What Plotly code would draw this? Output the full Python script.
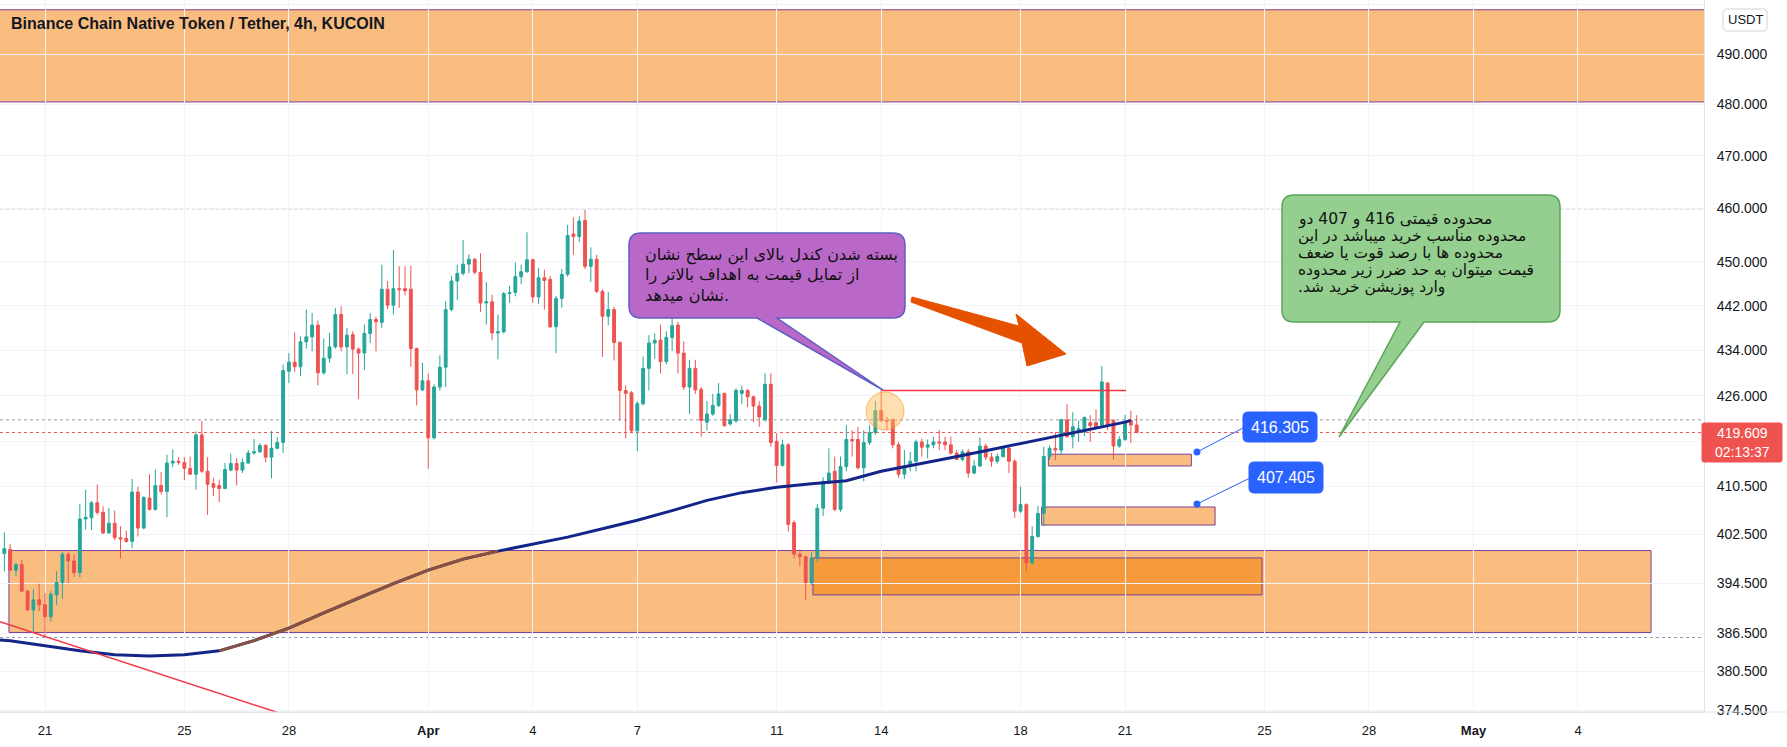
import plotly.graph_objects as go
import pandas as pd
import numpy as np

# ---------------- data ----------------
start_time = "2021-03-19 20:00"
opens = [399.3,400.0,396.6,397.5,393.2,390.2,391.8,391.0,389.1,392.6,394.6,399.2,398.1,396.2,405.0,405.2,407.7,406.1,402.7,404.3,
         401.9,401.8,401.3,409.5,403.5,408.5,406.6,410.6,409.6,414.4,414.7,414.5,413.5,412.5,419.2,413.0,410.9,410.6,410.1,413.2,
         414.3,413.2,414.4,416.1,416.3,417.4,415.4,416.9,417.9,430.3,431.9,431.1,435.5,436.4,438.5,430.0,432.6,434.6,440.4,434.6,
         436.8,434.2,433.5,437.0,439.5,439.0,445.0,442.1,445.1,445.1,445.0,434.3,427.0,428.6,418.7,427.5,431.0,441.3,446.5,447.9,
         449.6,450.5,448.1,442.5,442.7,437.1,437.3,444.2,444.4,447.3,448.2,450.4,443.6,447.1,446.8,438.2,443.3,447.7,455.2,454.7,
         457.7,449.2,450.5,444.6,440.1,441.3,435.4,426.9,426.5,419.9,424.6,430.8,435.3,435.8,432.0,436.3,438.5,433.5,427.5,430.8,
         427.1,421.4,422.8,424.3,426.4,421.1,421.6,426.4,426.9,425.8,424.2,421.8,428.0,418.1,414.0,417.5,404.4,399.2,398.8,394.6,
         398.6,406.8,411.3,413.0,406.6,413.8,418.4,418.4,413.6,417.9,419.6,423.4,421.7,421.8,417.5,412.5,413.9,414.7,418.0,417.1,
         417.5,418.0,418.0,417.5,416.1,415.0,416.3,412.7,413.9,417.3,415.4,414.7,415.5,416.9,414.7,406.3,407.4,397.8,402.1,405.9,
         415.5,416.9,416.6,421.8,418.9,419.7,419.7,421.3,421.3,420.9,428.2,421.7,417.3,418.4,421.7,420.9]
highs = [402.8,400.9,397.8,398.3,393.4,393.5,394.4,392.9,393.2,396.4,399.6,399.5,399.2,407.5,409.9,408.0,410.8,407.1,406.8,406.4,
         403.8,403.1,411.7,410.4,408.8,412.5,413.3,412.9,415.8,416.7,415.4,415.4,415.5,419.8,421.6,415.4,411.9,411.6,414.4,416.0,
         415.2,415.2,416.6,418.5,417.8,417.6,419.9,418.8,431.5,433.5,437.2,436.5,441.3,440.7,439.3,436.1,437.1,441.6,441.9,438.0,
         437.4,434.5,438.6,440.7,440.0,449.5,446.5,452.2,449.2,449.2,449.3,434.5,431.8,429.9,428.0,433.1,442.8,447.4,449.5,454.1,
         451.4,450.7,451.6,446.3,444.0,440.4,444.5,445.6,449.9,449.5,455.5,450.6,448.9,448.6,447.4,443.8,448.7,456.9,458.3,458.5,
         459.7,452.7,451.3,445.0,444.5,441.8,435.6,427.8,426.8,425.0,432.9,436.7,437.0,438.6,437.4,441.3,439.1,435.6,432.3,432.3,
         427.5,425.1,426.3,428.2,426.5,422.8,427.3,427.8,427.2,426.0,425.0,429.9,429.9,419.5,418.4,417.8,404.8,400.0,399.0,399.5,
         407.5,412.0,416.9,415.5,415.5,420.9,420.0,420.6,420.0,420.9,425.1,427.0,422.3,422.0,418.0,416.6,416.3,418.4,418.6,418.4,
         418.9,420.0,418.9,418.9,416.6,416.7,416.8,414.9,418.8,417.7,416.1,416.0,417.1,417.2,415.0,410.4,407.6,403.8,407.2,417.2,
         417.4,419.7,422.0,424.5,423.1,421.7,422.4,422.6,423.6,431.2,428.4,421.9,419.0,422.7,423.4,422.6]
lows = [396.4,396.4,395.6,393.0,390.0,386.6,390.0,385.9,388.3,391.0,392.0,394.5,395.5,395.4,403.2,403.2,405.7,402.5,402.6,401.5,
        398.5,401.1,400.2,402.1,403.3,406.4,406.4,409.1,405.3,413.7,414.1,411.5,412.4,409.9,412.7,405.7,408.8,407.8,410.0,413.0,
        410.6,412.7,414.2,415.8,416.1,414.5,411.8,416.8,416.1,428.2,430.2,429.4,434.3,433.8,427.8,429.7,431.8,434.3,433.8,429.8,
        429.8,425.4,430.5,435.3,433.8,438.0,441.4,440.4,441.6,443.9,431.1,424.3,426.8,413.4,418.4,426.9,427.5,441.0,443.0,447.5,
        447.9,447.7,440.9,438.6,435.8,432.4,437.0,442.5,443.7,445.9,448.0,442.5,442.3,441.3,438.0,433.5,441.6,447.3,451.3,453.7,
        448.7,446.3,444.3,432.8,438.5,432.2,421.7,418.6,419.5,416.4,424.3,426.9,432.5,429.9,431.5,433.9,429.9,427.0,422.8,426.3,
        418.9,420.0,422.5,424.0,420.6,420.8,421.3,424.5,424.0,421.4,420.6,421.5,417.2,411.1,413.8,402.9,398.5,397.2,391.8,394.2,
        398.0,405.5,410.8,406.3,406.2,413.0,415.5,413.3,411.3,417.5,419.2,421.4,420.0,416.9,411.9,411.7,413.0,413.0,415.5,415.2,
        416.9,416.6,416.6,415.8,414.9,414.7,411.9,412.5,413.7,414.9,413.8,414.3,415.3,412.7,405.2,406.0,396.4,397.5,401.9,403.8,
        414.9,414.9,415.8,418.7,416.9,418.0,419.0,418.0,420.2,420.5,420.0,415.0,417.0,418.2,417.8,419.5]
closes = [400.1,396.6,397.5,393.2,390.2,391.8,391.0,389.1,392.7,394.6,399.2,398.1,396.2,405.0,405.3,407.7,406.1,402.7,404.3,401.9,
          401.7,401.3,409.5,403.5,408.6,406.6,410.6,409.6,414.4,414.7,414.5,413.5,412.5,419.2,413.0,410.8,410.3,410.1,413.3,414.3,
          413.2,414.5,416.1,416.3,417.4,415.4,416.9,417.9,430.4,431.9,431.1,435.5,436.4,438.5,430.0,432.6,434.6,440.4,434.6,436.7,
          434.2,433.5,437.0,439.5,439.1,445.0,442.1,445.1,444.9,444.7,434.3,427.0,428.6,418.7,427.5,431.0,441.3,446.5,447.9,449.6,
          450.5,448.1,442.5,442.7,437.1,437.3,444.2,444.4,447.3,448.2,450.4,443.6,447.1,446.6,438.2,443.3,447.7,454.9,454.7,457.6,
          449.2,450.5,444.6,440.1,441.3,435.4,426.9,426.4,419.9,424.6,430.8,435.3,435.8,432.0,436.3,438.4,433.5,427.5,430.8,427.0,
          421.7,422.8,424.3,426.3,420.8,421.8,426.9,426.9,425.8,424.2,422.3,428.0,417.9,414.0,417.5,404.1,399.2,398.8,394.6,398.6,
          406.8,411.3,412.7,406.6,413.8,418.4,418.2,413.6,417.9,419.6,423.4,421.7,421.6,417.5,412.5,413.9,414.7,418.0,417.1,417.5,
          418.0,417.8,417.5,416.1,415.0,416.3,412.7,413.9,417.3,415.4,414.7,415.5,416.9,414.7,406.3,407.4,397.8,402.1,405.9,415.5,
          416.9,416.6,421.8,418.9,420.6,420.3,422.2,420.8,420.5,428.4,420.9,417.3,418.4,421.4,420.9,419.609]

ma_times = ["2021-03-19 17:00"] + [d.strftime("%Y-%m-%d") for d in pd.date_range("2021-03-20", "2021-04-21", freq="D")] + ["2021-04-21 04:00"]
ma_vals = [385.4,385.3,384.5,383.7,383.1,382.9,383.1,383.7,385.3,387.3,389.7,392.1,394.4,396.6,398.4,399.7,400.9,402.0,
           403.4,404.8,406.4,408.1,409.4,410.3,410.9,411.4,413.0,414.1,415.3,416.5,417.7,419.0,420.2,421.4,421.7]
ma_brown_from, ma_brown_to = 7, 15

trend_x = ["2021-03-19 17:00", "2021-03-28 07:40"]
trend_y = [388.3, 373.0]

tick_dates = ["2021-03-21", "2021-03-25", "2021-03-28", "2021-04-01", "2021-04-04", "2021-04-07", "2021-04-11",
              "2021-04-14", "2021-04-18", "2021-04-21", "2021-04-25", "2021-04-28", "2021-05-01", "2021-05-04"]
tick_date_text = ["21", "25", "28", "<b>Apr</b>", "4", "7", "11", "14", "18", "21", "25", "28", "<b>May</b>", "4"]
price_ticks = [374.5, 380.5, 386.5, 394.5, 402.5, 410.5, 418, 426, 434, 442, 450, 460, 470, 480, 490, 500]

top_zone = ("2021-03-10", "2021-05-20", 480.5, 499.0)
big_zone = ("2021-03-19 23:10", "2021-05-06 02:20", 386.6, 399.8)
inner_zone = ("2021-04-12 01:00", "2021-04-24 22:20", 392.6, 398.6)
zone_416 = ("2021-04-18 19:10", "2021-04-22 21:40", 413.9, 415.9)
zone_407 = ("2021-04-18 14:30", "2021-04-23 14:00", 404.0, 407.0)
resistance = ("2021-04-14 01:00", "2021-04-21 00:45", 426.9)
range_high, range_low, prev_close = 459.9, 385.8, 421.8
last_price = closes[-1]
countdown = "02:13:37"
label_values = [416.305, 407.405]

title = "Binance Chain Native Token / Tether, 4h, KUCOIN"
purple_lines = ["بسته شدن کندل بالای این سطح نشان", "از تمایل قیمت به اهداف بالاتر را", "نشان میدهد."]
green_lines = ["محدوده قیمتی 416 و 407 دو", "محدوده مناسب خرید میباشد در این", "محدوده ها با رصد قوت یا ضعف",
               "قیمت میتوان به حد ضرر زیر محدوده", ".وارد پوزیشن خرید شد"]

# ---------------- figure ----------------
W, H = 1787, 747
PW, PH = 1704, 712
times = pd.date_range(start_time, periods=len(opens), freq="4h")

UP, DN = "#26a69a", "#ef5350"
GRID = "#f0f3fa"
ZONE = "#fabd80"
ZONE_DARK = "#f69a3c"
ZONE_LINE = "#7b3f99"
NAVY = "#14258a"

fig = go.Figure()
fig.add_trace(go.Candlestick(
    x=times, open=opens, high=highs, low=lows, close=closes,
    increasing=dict(line=dict(color=UP, width=1), fillcolor=UP),
    decreasing=dict(line=dict(color=DN, width=1), fillcolor=DN),
    whiskerwidth=0, hoverinfo="skip", showlegend=False))
fig.add_trace(go.Scatter(x=ma_times, y=ma_vals, mode="lines", line=dict(color=NAVY, width=3),
                         hoverinfo="skip", showlegend=False))
fig.add_trace(go.Scatter(x=ma_times[ma_brown_from:ma_brown_to + 1], y=ma_vals[ma_brown_from:ma_brown_to + 1],
                         mode="lines", line=dict(color="#8a5140", width=3), hoverinfo="skip", showlegend=False))
fig.add_trace(go.Scatter(x=trend_x, y=trend_y, mode="lines", line=dict(color="#f23645", width=1.5),
                         hoverinfo="skip", showlegend=False))

shapes = []


def zone(z, fill, layer="below"):
    shapes.append(dict(type="rect", xref="x", yref="y", x0=z[0], x1=z[1], y0=z[2], y1=z[3],
                       fillcolor=fill, line=dict(color=ZONE_LINE, width=1), layer=layer))


zone(top_zone, ZONE)
zone(big_zone, ZONE)
zone(inner_zone, ZONE_DARK)
zone(zone_416, ZONE)
zone(zone_407, ZONE)

for lvl, col in [(range_high, "#9598a1"), (prev_close, "#9598a1"), (range_low, "#9598a1"), (last_price, "#ef5350")]:
    shapes.append(dict(type="line", xref="paper", yref="y", x0=0, x1=1, y0=lvl, y1=lvl,
                       line=dict(color=col, width=1, dash="dot"), layer="below"))

shapes.append(dict(type="line", xref="x", yref="y", x0=resistance[0], x1=resistance[1], y0=resistance[2],
                   y1=resistance[2], line=dict(color="#f23645", width=1.5), layer="above"))
# bottom border continuing under the price scale
shapes.append(dict(type="line", xref="paper", yref="paper", x0=0, x1=W / PW, y0=0, y1=0,
                   line=dict(color="#e0e3eb", width=1), layer="above"))


def P(x, y):
    return f"{x / PW:.5f},{1 - y / PH:.5f}"


def rrect(x0, y0, x1, y1, r, tail=None):
    d = f"M{P(x0 + r, y0)} L{P(x1 - r, y0)} Q{P(x1, y0)} {P(x1, y0 + r)} L{P(x1, y1 - r)} Q{P(x1, y1)} {P(x1 - r, y1)}"
    if tail:
        bx0, bx1, tx, ty = tail
        d += f" L{P(bx1, y1)} L{P(tx, ty)} L{P(bx0, y1)}"
    d += f" L{P(x0 + r, y1)} Q{P(x0, y1)} {P(x0, y1 - r)} L{P(x0, y0 + r)} Q{P(x0, y0)} {P(x0 + r, y0)} Z"
    return d


def pshape(d, fill, line, width=1.5):
    shapes.append(dict(type="path", xref="paper", yref="paper", path=d, fillcolor=fill,
                       line=dict(color=line, width=width), layer="above"))


# orange highlight circle
cx, cy, cr = 885, 411, 19
shapes.append(dict(type="circle", xref="paper", yref="paper", x0=(cx - cr) / PW, x1=(cx + cr) / PW,
                   y0=1 - (cy + cr) / PH, y1=1 - (cy - cr) / PH, fillcolor="rgba(255,183,77,0.45)",
                   line=dict(color="rgba(240,140,30,0.55)", width=1), layer="above"))

# callouts
pshape(rrect(629, 233, 905, 318, 12, (757, 777, 883, 390)), "#ba68c8", "#5c5fc4")
pshape(rrect(1282, 195, 1560, 322, 12, (1400, 1424, 1339, 437)), "#94cf8f", "#5aa55a")

# big orange arrow
arrow_pts = [(912, 297), (1019, 326), (1016, 314), (1066, 354), (1027, 366), (1022, 343), (911, 302)]
d = "M" + " L".join(P(x, y) for x, y in arrow_pts) + " Z"
pshape(d, "#e65100", "#e65100", 1)

# blue price labels with connectors
lab_boxes = [(1243, 412, 1317, 442), (1249, 462, 1323, 493)]
dots = [(1197, 452), (1197, 504)]
for (bx0, by0, bx1, by1), (dx, dy) in zip(lab_boxes, dots):
    shapes.append(dict(type="line", xref="paper", yref="paper", x0=dx / PW, y0=1 - dy / PH,
                       x1=bx0 / PW, y1=1 - ((by0 + by1) / 2 + 1) / PH,
                       line=dict(color="#2962ff", width=1), layer="above"))
    shapes.append(dict(type="circle", xref="paper", yref="paper", x0=(dx - 3.5) / PW, x1=(dx + 3.5) / PW,
                       y0=1 - (dy + 3.5) / PH, y1=1 - (dy - 3.5) / PH, fillcolor="#2962ff",
                       line=dict(color="#2962ff", width=0), layer="above"))
    pshape(rrect(bx0, by0, bx1, by1, 5), "#2962ff", "#2962ff", 1)

# price-axis current price box and USDT box
pshape(rrect(1702, 423, 1782, 462, 2), "#ef5350", "#ef5350", 1)
pshape(rrect(1723, 9, 1767, 31, 4), "#ffffff", "#d1d4dc", 1)

annotations = []
annotations.append(dict(text=f"<b>{title}</b>", xref="paper", yref="paper", x=9 / PW, y=1 - 24 / PH,
                        xanchor="left", yanchor="middle", showarrow=False,
                        font=dict(family="Liberation Sans", size=16, color="#131722")))
for i, t in enumerate(purple_lines):
    annotations.append(dict(text=t, xref="paper", yref="paper", x=643 / PW, y=1 - (255 + 20 * i) / PH,
                            xanchor="left", yanchor="middle", showarrow=False, align="left",
                            font=dict(family="DejaVu Sans", size=16, color="#111111")))
for i, t in enumerate(green_lines):
    annotations.append(dict(text=t, xref="paper", yref="paper", x=1296 / PW, y=1 - (220 + 16.9 * i) / PH,
                            xanchor="left", yanchor="middle", showarrow=False, align="left",
                            font=dict(family="DejaVu Sans", size=15.5, color="#111111")))
for (bx0, by0, bx1, by1), v in zip(lab_boxes, label_values):
    annotations.append(dict(text=f"{v:.3f}", xref="paper", yref="paper", x=(bx0 + bx1) / 2 / PW,
                            y=1 - (by0 + by1) / 2 / PH, xanchor="center", yanchor="middle", showarrow=False,
                            font=dict(family="Liberation Sans", size=16, color="#ffffff")))
annotations.append(dict(text=f"{last_price:.3f}", xref="paper", yref="paper", x=1742 / PW, y=1 - 433 / PH,
                        xanchor="center", yanchor="middle", showarrow=False,
                        font=dict(family="Liberation Sans", size=14, color="#ffffff")))
annotations.append(dict(text=countdown, xref="paper", yref="paper", x=1742 / PW, y=1 - 452 / PH,
                        xanchor="center", yanchor="middle", showarrow=False,
                        font=dict(family="Liberation Sans", size=14, color="#ffffff")))
annotations.append(dict(text="USDT", xref="paper", yref="paper", x=1745 / PW, y=1 - 20 / PH,
                        xanchor="center", yanchor="middle", showarrow=False,
                        font=dict(family="Liberation Sans", size=13, color="#131722")))

fig.update_layout(
    width=W, height=H, margin=dict(l=0, r=W - PW, t=0, b=H - PH),
    paper_bgcolor="white", plot_bgcolor="white", showlegend=False,
    shapes=shapes, annotations=annotations,
    xaxis=dict(type="date", range=["2021-03-19 17:00", "2021-05-07 14:48"], rangeslider=dict(visible=False),
               tickmode="array", tickvals=tick_dates, ticktext=tick_date_text,
               showgrid=True, gridcolor=GRID, gridwidth=1, zeroline=False,
               showline=True, linecolor="#e0e3eb", linewidth=1,
               ticks="outside", ticklen=6, tickcolor="rgba(0,0,0,0)",
               tickfont=dict(family="Liberation Sans", size=13, color="#131722")),
    yaxis=dict(type="log", side="right", range=[np.log10(374.2), np.log10(501.0)],
               tickmode="array", tickvals=price_ticks,
               ticktext=["" if v == 418 else f"{v:.3f}" for v in price_ticks],
               showgrid=True, gridcolor=GRID, gridwidth=1, zeroline=False,
               showline=True, linecolor="#e0e3eb", linewidth=1,
               ticks="outside", ticklen=9, tickcolor="rgba(0,0,0,0)",
               tickfont=dict(family="Liberation Sans", size=14, color="#131722")),
)

fig.write_html("out.html")
